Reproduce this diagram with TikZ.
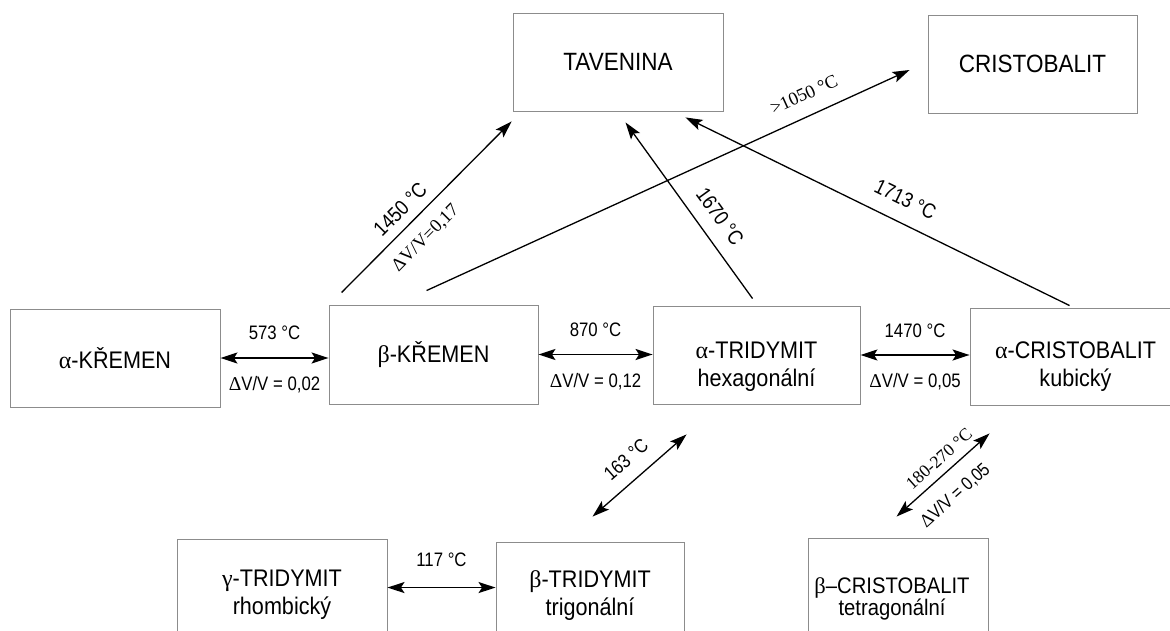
\documentclass[tikz,border=0pt]{standalone}
\usepackage{fontspec}
\setmainfont{Liberation Sans}[FakeStretch=0.9]
\newfontfamily\NarrowSans{Liberation Sans}[FakeStretch=0.86]
\newfontfamily\SerifF{Liberation Serif}
\usetikzlibrary{arrows.meta,calc}
\newcommand\GrA{{\SerifF α}}
\newcommand\GrB{{\SerifF β}}
\newcommand\GrG{{\SerifF γ}}
\newcommand\GrD{{\SerifF Δ}}
\definecolor{boxgray}{gray}{0.55}
\begin{document}
\begin{tikzpicture}[x=1pt,y=-1pt,
  box/.style={draw=boxgray, line width=0.9pt, inner sep=0pt},
  boxtxt/.style={font=\fontsize{24}{28}\selectfont, align=center, inner sep=0pt},
  toptxt/.style={font=\fontsize{25}{28}\selectfont, align=center, inner sep=0pt},
  tip/.tip={Stealth[length=17pt,width=11pt,inset=3.5pt]},
  arr/.style={line width=1.3pt, -tip},
  darr/.style={line width=1.7pt, tip-tip},
  ddarr/.style={line width=1.3pt, tip-tip},
  lab/.style={font=\NarrowSans\fontsize{19.5}{21}\selectfont, inner sep=0pt},
  dlab/.style={font=\NarrowSans\fontsize{21}{22}\selectfont, inner sep=0pt, sloped},
  slab/.style={font=\SerifF\fontsize{18.5}{20}\selectfont, inner sep=0pt, sloped},
]
\fill[white] (0,0) rectangle (1170,631);
\clip (0,0) rectangle (1170,631);

% boxes
\node[box, toptxt, minimum width=210, minimum height=98] (tav) at (618,62) {TAVENINA};
\node[box, toptxt, minimum width=209, minimum height=98] (cris) at (1032.5,64) {CRISTOBALIT};
\node[box, boxtxt, minimum width=210, minimum height=98] (kA) at (115,358) {\GrA-KŘEMEN};
\node[box, boxtxt, minimum width=209, minimum height=99] (kB) at (433.5,354.5) {\GrB-KŘEMEN};
\node[box, minimum width=207, minimum height=98] (tA) at (756.5,355) {};
\node[box, minimum width=205, minimum height=97] (cA) at (1072.5,356.5) {};
\node[box, minimum width=210, minimum height=112] (gT) at (282,595) {};
\node[box, minimum width=188, minimum height=112] (bT) at (590,598) {};
\node[box, minimum width=180, minimum height=112] (bC) at (898,594) {};

% box texts
\node[boxtxt] (tAt) at ($(tA.center)+(0,12)$) {\GrA-TRIDYMIT\\hexagonální};
\node[boxtxt] (cAt) at ($(cA.center)+(3,10)$) {\GrA-CRISTOBALIT\\kubický};
\node[boxtxt] (gTt) at (gT.center) {\GrG-TRIDYMIT\\rhombický};
\node[boxtxt] (bTt) at ($(bT.center)+(0,-2)$) {\GrB-TRIDYMIT\\trigonální};
\node[boxtxt, font=\fontsize{22.5}{21}\selectfont] (bCt) at ($(bC.center)+(-6,5)$) {\GrB–CRISTOBALIT\\tetragonální};

% horizontal transitions
\draw[darr] (kA.east) -- (kA.east -| kB.west)
  node[lab, midway, above=17pt] (l573) {573 °C}
  node[lab, midway, below=18pt] (l002) {\GrD V/V = 0,02};
\draw[darr] (kB.east) -- (kB.east -| tA.west)
  node[lab, midway, above=17pt] (l870) {870 °C}
  node[lab, midway, below=18pt] (l012) {\GrD V/V = 0,12};
\draw[darr] (tA.east) -- (tA.east -| cA.west)
  node[lab, midway, above=16pt] (l1470) {1470 °C}
  node[lab, midway, below=18pt] (l005a) {\GrD V/V = 0,05};
\coordinate (g4) at ($(gT.north east)+(0,49)$);
\draw[darr] (g4) -- (g4 -| bT.west)
  node[lab, midway, above=20pt] (l117) {117 °C};

% diagonal transitions
\coordinate (s163) at ($(bT.north west)+(97,-25)$);
\coordinate (e163) at ($(tA.south west)+(34,30)$);
\draw[ddarr] (s163) -- (e163)
  node[lab, sloped, pos=0.504, above=13.5pt] (l163) {163 °C};

\coordinate (s180) at ($(bC.north west)+(89,-21)$);
\coordinate (e180) at ($(cA.south west)+(20,28)$);
\draw[ddarr] (s180) -- (e180)
  node[slab, font=\SerifF\fontsize{17.6}{19}\selectfont, pos=0.56, above=8pt] (l180) {180-270 °C}
  node[lab, font=\NarrowSans\fontsize{18.5}{20}\selectfont, sloped, pos=0.46, below=15pt] (l005b) {\GrD V/V = 0,05};

\coordinate (s1450) at ($(kB.north west)+(13,-12)$);
\coordinate (e1450) at ($(tav.south west)+(-1,10)$);
\draw[arr] (s1450) -- (e1450)
  node[dlab, pos=0.416, above=9pt] (l1450) {1450 °C}
  node[slab, pos=0.406, below=13.3pt] (l017) {\GrD V/V=0,17};

\coordinate (s1050) at ($(kB.north west)+(98,-14)$);
\coordinate (e1050) at ($(cris.west)+(-18,6)$);
\draw[arr] (s1050) -- (e1050)
  node[slab, pos=0.80, above=14.7pt] (l1050) {>1050 °C};

\coordinate (s1670) at ($(tA.north west)+(100,-7)$);
\coordinate (e1670) at ($(tav.south west)+(113,11)$);
\draw[arr] (s1670) -- (e1670)
  node[dlab, pos=0.394, above=13.5pt] (l1670) {1670 °C};

\coordinate (s1713) at ($(cA.north west)+(100,-2)$);
\coordinate (e1713) at ($(tav.south east)+(-38,6)$);
\draw[arr] (s1713) -- (e1713)
  node[dlab, pos=0.454, above=15pt] (l1713) {1713 °C};
\end{tikzpicture}
\end{document}
